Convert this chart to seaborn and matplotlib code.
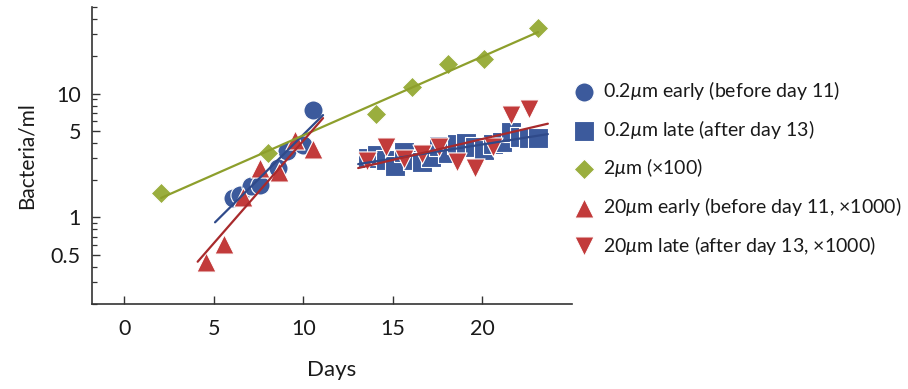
import numpy as np
import pandas as pd
import matplotlib
matplotlib.use("Agg")
import matplotlib.pyplot as plt
from matplotlib.ticker import LogLocator, FixedLocator, FixedFormatter, NullFormatter
import seaborn as sns

# ---- data -------------------------------------------------------------
days_early_02 = [6.06, 6.47, 7.06, 7.58, 8.60, 9.07, 9.99, 10.55]
bact_early_02 = [1.43, 1.51, 1.80, 1.84, 2.52, 3.44, 3.85, 7.42]

days_late_02 = [13.6, 14.1, 14.6, 15.1, 15.6, 16.1, 16.6, 17.1, 17.6, 18.1,
                18.6, 19.1, 19.6, 20.1, 20.6, 21.1, 21.6, 22.1, 22.6, 23.1]
bact_late_02 = [3.0, 3.2, 2.9, 2.6, 3.4, 2.9, 2.8, 3.1, 3.8, 3.3,
                3.9, 4.0, 3.7, 3.5, 3.9, 4.1, 4.9, 4.5, 4.4, 4.4]

days_2um = [2.06, 8.03, 14.05, 16.05, 18.1, 20.1, 23.1]
bact_2um = [1.57, 3.31, 6.88, 11.2, 17.2, 18.9, 33.8]

days_early_20 = [4.55, 5.59, 6.65, 7.58, 8.64, 9.53, 10.55]
bact_early_20 = [0.44, 0.61, 1.46, 2.52, 2.31, 4.23, 3.57]

days_late_20 = [13.57, 14.59, 15.6, 16.63, 17.58, 18.6, 19.6, 20.59, 21.61, 22.6]
bact_late_20 = [2.85, 3.73, 2.96, 3.25, 3.70, 2.78, 2.49, 3.73, 6.66, 7.53]

labels = ["0.2$\\mu$m early (before day 11)",
          "0.2$\\mu$m late (after day 13)",
          "2$\\mu$m (\u00d7100)",
          "20$\\mu$m early (before day 11, \u00d71000)",
          "20$\\mu$m late (after day 13, \u00d71000)"]

y_tick_values = [0.5, 1, 5, 10]
y_tick_labels = ["0.5", "1", "5", "10"]
x_tick_values = [0, 5, 10, 15, 20]

# ---- style ------------------------------------------------------------
sns.set_theme(style="ticks")
plt.rcParams["font.family"] = ["Lato", "DejaVu Sans"]
plt.rcParams["font.weight"] = "normal"
plt.rcParams["mathtext.fontset"] = "custom"
plt.rcParams["mathtext.rm"] = "Lato"
plt.rcParams["mathtext.it"] = "Lato:italic"
plt.rcParams["mathtext.bf"] = "Lato:bold"

BLUE = "#3c5a9c"
GREEN = "#9aae3e"
RED = "#c23b3b"
BLUE_LINE = "#2f4a8a"
GREEN_LINE = "#8d9f2c"
RED_LINE = "#a82a2c"
TXT = "#1a1a1a"

fig = plt.figure(figsize=(9.08, 3.89), dpi=100)
ax = fig.add_axes([0.1013, 0.2185, 0.5287, 0.7635])

series = [
    (days_early_02, bact_early_02, "o", BLUE, 190, labels[0], BLUE_LINE, (5.07, 11.1)),
    (days_late_02, bact_late_02, "s", BLUE, 190, labels[1], BLUE_LINE, (13.06, 23.65)),
    (days_2um, bact_2um, "D", GREEN, 110, labels[2], GREEN_LINE, (2.06, 23.1)),
    (days_early_20, bact_early_20, "^", RED, 190, labels[3], RED_LINE, (4.1, 11.1)),
    (days_late_20, bact_late_20, "v", RED, 190, labels[4], RED_LINE, (13.06, 23.65)),
]

for i, (d, b, mk, col, size, lab, lcol, (x0, x1)) in enumerate(series):
    df = pd.DataFrame({"day": d, "bacteria": b})
    sns.scatterplot(data=df, x="day", y="bacteria", marker=mk, s=size,
                    color=col, edgecolor="white", linewidth=0.8,
                    label=lab, ax=ax, zorder=3 + i * 0.1)

# exponential fits (linear in log10 space)
for d, b, mk, col, size, lab, lcol, (x0, x1) in series:
    slope, icpt = np.polyfit(np.asarray(d), np.log10(b), 1)
    xs = np.linspace(x0, x1, 50)
    fit = pd.DataFrame({"day": xs, "bacteria": 10 ** (icpt + slope * xs)})
    sns.lineplot(data=fit, x="day", y="bacteria", color=lcol, lw=1.6,
                 ax=ax, zorder=5, legend=False)

ax.set_yscale("log")
ax.set_xlim(-1.8, 25.0)
ax.set_ylim(0.2, 50)

ax.yaxis.set_major_locator(FixedLocator(y_tick_values))
ax.yaxis.set_major_formatter(FixedFormatter(y_tick_labels))
ax.yaxis.set_minor_locator(LogLocator(base=10, subs=np.arange(1, 10)))
ax.yaxis.set_minor_formatter(NullFormatter())
ax.set_xticks(x_tick_values)

sns.despine(ax=ax)
for sp in ("left", "bottom"):
    ax.spines[sp].set_color("#333333")
    ax.spines[sp].set_linewidth(1.2)
ax.tick_params(axis="both", which="major", direction="in", length=6,
               width=1.0, color="#333333", labelsize=15.5, labelcolor=TXT)
ax.tick_params(axis="x", which="major", pad=11)
ax.tick_params(axis="y", which="major", pad=8)
ax.tick_params(axis="y", which="minor", direction="in", length=3.5,
               width=0.9, color="#333333")

ax.set_xlabel("Days", fontsize=16, color=TXT, labelpad=15)
ax.set_ylabel("Bacteria/ml", fontsize=15, color=TXT, labelpad=10)

leg = ax.legend(loc="center left", bbox_to_anchor=(0.985, 0.458), frameon=False,
                fontsize=14, handletextpad=0.35, labelspacing=0.8,
                borderaxespad=0.0, handlelength=1.2)
for t in leg.get_texts():
    t.set_color(TXT)

fig.savefig("out.png", dpi=100)
